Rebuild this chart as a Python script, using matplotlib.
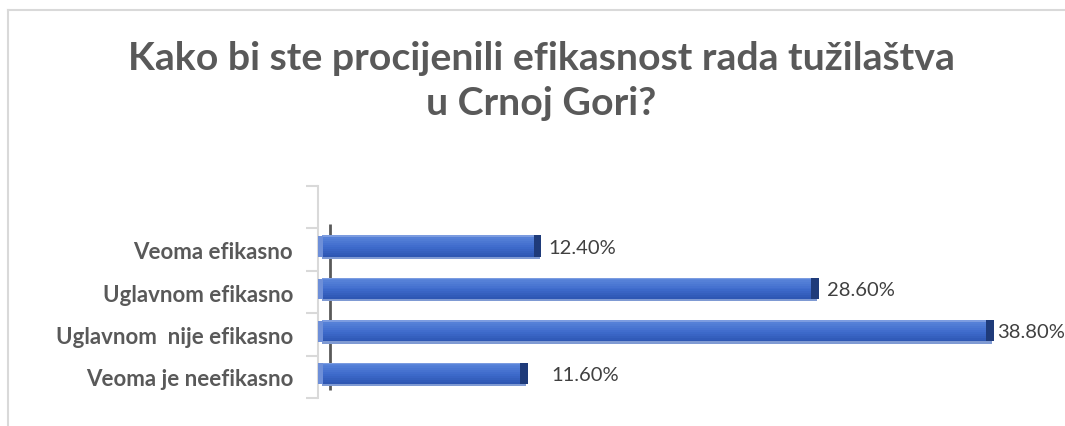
import matplotlib
matplotlib.use("Agg")
import matplotlib.pyplot as plt
from matplotlib.patches import Rectangle
import numpy as np

categories = ["Veoma je neefikasno", "Uglavnom  nije efikasno", "Uglavnom efikasno", "Veoma efikasno"]
values = [11.6, 38.8, 28.6, 12.4]
value_labels = ["11.60%", "38.80%", "28.60%", "12.40%"]
title = "Kako bi ste procijenili efikasnost rada tužilaštva\nu Crnoj Gori?"

# label offsets (style only, in data units)
label_pad = [1.5, 0.25, 0.55, 0.5]

W, H = 1065, 427
fig = plt.figure(figsize=(W / 100, H / 100), dpi=100)
fig.patch.set_facecolor("white")

fig.add_artist(plt.Line2D([8 / W, 8 / W], [0, 1 - 11 / H], color="#D9D9D9", lw=1.5))
fig.add_artist(plt.Line2D([8 / W, 1], [1 - 11 / H, 1 - 11 / H], color="#D9D9D9", lw=1.5))

fig.text(541 / W, 1 - 81 / H, title, ha="center", va="center", fontsize=28.3,
         fontweight="bold", color="#595959", family="Lato", linespacing=1.32)

ax_left, ax_right = 318, 1013
ax_top, ax_bot = 187, 399
ax = fig.add_axes([ax_left / W, 1 - ax_bot / H, (ax_right - ax_left) / W, (ax_bot - ax_top) / H])
ax.set_xlim(-0.525, 40)
ax.set_ylim(-0.5, 4.5)
ax.set_facecolor("none")

for s in ["top", "right", "bottom"]:
    ax.spines[s].set_visible(False)
ax.spines["left"].set_color("#D9D9D9")
ax.spines["left"].set_linewidth(1.5)
ax.set_xticks([])

ax.set_yticks(np.arange(-0.5, 4.6, 1.0), minor=True)
ax.tick_params(axis="y", which="minor", length=9, color="#D9D9D9", width=1.5)
ax.set_yticks(range(len(categories)))
ax.set_yticklabels(categories, fontsize=16, fontweight="bold", color="#595959", family="Lato")
ax.tick_params(axis="y", which="major", length=0, pad=18)

# back-wall axis line
ax.plot([0.2, 0.2], [-0.3, 3.6], color="#595959", lw=2, zorder=1, solid_capstyle="butt")

h = 0.55
off = 0.06
top_c = np.array([0x5A, 0x85, 0xDA]) / 255
mid_c = np.array([0x3E, 0x6B, 0xCC]) / 255
bot_c = np.array([0x2A, 0x52, 0xAE]) / 255
for i, v in enumerate(values):
    y = i + off
    n = 12
    for k in range(n):
        t = k / (n - 1)
        if t < 0.5:
            c = bot_c + (mid_c - bot_c) * (t / 0.5)
        else:
            c = mid_c + (top_c - mid_c) * ((t - 0.5) / 0.5)
        y0 = y - h / 2 + h * k / n
        ax.add_patch(Rectangle((-0.3, y0), v + 0.3, h / n + 0.001, facecolor=c,
                               edgecolor="none", zorder=2))
    ax.add_patch(Rectangle((-0.3, y + h / 2 - 0.04), v + 0.3, 0.04, facecolor="#7C9CE0",
                           edgecolor="none", zorder=3))
    ax.add_patch(Rectangle((-0.3, y - h / 2), v + 0.3, 0.05, facecolor="#7F9AD3",
                           edgecolor="none", zorder=3))
    ax.add_patch(Rectangle((-0.5, y - h / 2 + 0.04), 0.25, h - 0.06, facecolor="#6E8FD8",
                           edgecolor="none", zorder=3))
    ax.add_patch(Rectangle((v - 0.35, y - h / 2 + 0.05), 0.45, h - 0.05, facecolor="#1F3B7A",
                           edgecolor="none", zorder=4))
    ax.text(v + label_pad[i], y, value_labels[i], va="center", ha="left", fontsize=14.5,
            color="#404040", family="Lato", clip_on=False)

fig.savefig("out.png", dpi=100, facecolor="white")
